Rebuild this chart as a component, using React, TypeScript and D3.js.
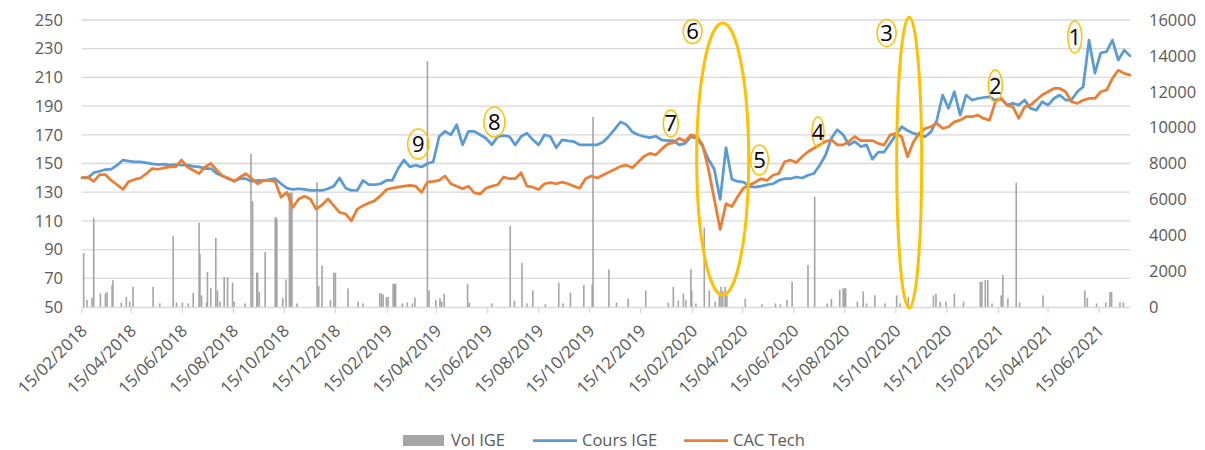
import React from 'react';
import * as d3 from 'd3';

// ---------- DATA ----------
const START = '2018-02-15';
const END = '2021-07-22';

// Weekly readings (one value per week starting 15/02/2018)
const coursIGE: number[] = [
  140.1, 140, 143.6, 144.6, 145.8, 146, 148.8, 152.4, 151.6, 151.2,
  151.2, 150.5, 149.8, 149.3, 149.5, 148.8, 149.3, 148.8, 148.8, 148,
  147.6, 146.5, 146.5, 143, 141.3, 139.4, 137.8, 139.4, 139.4, 137.5,
  138.2, 138, 138.7, 139.4, 135.9, 132.8, 131.9, 132.4, 131.9, 131.2,
  131.2, 131.2, 132.4, 134.2, 139.9, 133, 131.2, 131.2, 138.2, 135.2,
  135.2, 135.9, 138.2, 138.2, 146.5, 152.4, 147.6, 148.8, 147.6, 150,
  151.2, 168.8, 172.4, 170, 177, 163, 172.4, 172.4, 170, 167.6,
  163, 168.8, 169.5, 168.8, 163, 168.8, 171.2, 166.5, 163, 170,
  168.8, 161, 166.5, 165.8, 165.3, 163, 163, 163, 163, 165,
  169, 174, 179, 177, 172, 170, 168.8, 168, 169, 166.5,
  166, 166, 163, 164, 168.8, 167.5, 162, 153, 146, 125,
  161, 139, 137.5, 137, 134, 133.5, 134.2, 135.2, 135.9, 138.2,
  139.4, 139.4, 140.6, 139.9, 141.8, 143, 148.8, 155.9, 167.6, 173.5,
  170, 163, 165.3, 161.8, 163, 153, 158, 158, 164, 169.8,
  175.6, 173, 171, 170, 168.6, 172, 180, 197.7, 188.4, 200,
  183.7, 197.7, 194.2, 195.3, 196, 196.5, 194.2, 195.3, 190.7, 191.9,
  190.7, 194.2, 188.4, 187.2, 193, 190.7, 195.3, 197.7, 194.2, 194.2,
  200, 203.5, 236, 213, 227, 228, 236, 222, 229, 225,
];

const cacTech: number[] = [
  140, 140.6, 137.5, 142.2, 142.2, 138.2, 135.2, 132, 137.5, 138.9,
  139.9, 142.9, 146.5, 146, 146.9, 147.6, 147.6, 152.4, 147.6, 145.3,
  142.9, 147.6, 150, 145.3, 141.3, 139.9, 137.5, 140.6, 142.9, 139.4,
  135.9, 138.2, 138.2, 137.5, 126.5, 130, 119.4, 125.3, 127.2, 125.3,
  118.2, 121.1, 125.3, 120.6, 115.9, 115, 110, 118.2, 120.6, 122.5,
  124.1, 127.6, 131.9, 132.8, 133.5, 134.2, 134.7, 134.2, 130, 137,
  137.5, 138.2, 141.3, 135.9, 134.2, 132.4, 134.2, 129.5, 128.8, 132.8,
  134.2, 135.2, 140.6, 139.4, 139.4, 143.6, 134.2, 133.5, 131.9, 135.9,
  136.6, 135.9, 137, 135.9, 134.2, 132.8, 139.4, 141.3, 139.9, 142,
  144, 146, 148, 148.8, 147, 151, 155, 157, 156, 160,
  163.5, 164.5, 167.6, 165.5, 170, 169, 163, 146, 125, 104,
  122, 120, 127, 133, 135, 137, 139.4, 138.2, 141.8, 143,
  151.2, 152.4, 150.7, 154.7, 158.2, 160.6, 163, 165.3, 166.5, 163,
  163, 165.3, 168.8, 166, 166, 166, 164, 162.8, 169.8, 171,
  168.6, 154.7, 165, 171, 174.4, 175.6, 178, 174.4, 175.6, 179,
  180.2, 182.6, 182.6, 183.7, 181.4, 180.2, 193, 195.3, 190.7, 189.5,
  181.4, 189.5, 190.7, 194.2, 197.7, 200, 202.3, 202.3, 200, 193,
  191.9, 194.2, 195.3, 195.3, 200, 201.2, 209.3, 215, 212.8, 211.6,
];

const volDates: string[] = [
  '2018-02-17', '2018-02-21', '2018-02-27', '2018-03-01', '2018-03-09', '2018-03-15', '2018-03-17', '2018-03-23', '2018-03-24', '2018-04-03',
  '2018-04-09', '2018-04-13', '2018-04-17', '2018-05-11', '2018-05-19', '2018-06-04', '2018-06-08', '2018-06-15', '2018-06-22', '2018-06-28',
  '2018-07-05', '2018-07-06', '2018-07-08', '2018-07-14', '2018-07-15', '2018-07-19', '2018-07-25', '2018-07-27', '2018-07-30', '2018-08-04',
  '2018-08-08', '2018-08-14', '2018-08-16', '2018-08-29', '2018-09-05', '2018-09-07', '2018-09-12', '2018-09-13', '2018-09-15', '2018-09-22',
  '2018-10-04', '2018-10-05', '2018-10-06', '2018-10-13', '2018-10-17', '2018-10-21', '2018-10-22', '2018-10-23', '2018-10-24', '2018-10-30',
  '2018-11-23', '2018-11-25', '2018-11-29', '2018-12-09', '2018-12-13', '2018-12-15', '2018-12-30', '2019-01-11', '2019-01-17', '2019-02-06',
  '2019-02-08', '2019-02-10', '2019-02-14', '2019-02-16', '2019-02-22', '2019-02-24', '2019-02-25', '2019-03-05', '2019-03-11', '2019-03-17',
  '2019-03-20', '2019-04-04', '2019-04-06', '2019-04-14', '2019-04-19', '2019-04-21', '2019-04-24', '2019-05-22', '2019-05-24', '2019-06-20',
  '2019-07-12', '2019-07-17', '2019-07-26', '2019-08-01', '2019-08-08', '2019-08-23', '2019-09-08', '2019-09-13', '2019-09-22', '2019-10-08',
  '2019-10-18', '2019-10-19', '2019-11-07', '2019-11-16', '2019-11-30', '2019-12-21', '2020-01-17', '2020-01-23', '2020-01-29', '2020-02-04',
  '2020-02-07', '2020-02-13', '2020-02-14', '2020-02-19', '2020-02-29', '2020-03-06', '2020-03-13', '2020-03-18', '2020-03-20', '2020-03-22',
  '2020-03-25', '2020-03-27', '2020-04-18', '2020-05-08', '2020-05-24', '2020-05-30', '2020-06-07', '2020-06-13', '2020-07-02', '2020-07-10',
  '2020-07-25', '2020-07-30', '2020-08-09', '2020-08-13', '2020-08-15', '2020-08-16', '2020-08-30', '2020-09-06', '2020-09-10', '2020-09-20',
  '2020-10-02', '2020-10-16', '2020-10-20', '2020-10-30', '2020-11-29', '2020-12-02', '2020-12-07', '2020-12-14', '2020-12-24', '2021-01-04',
  '2021-01-24', '2021-01-26', '2021-01-30', '2021-02-02', '2021-02-07', '2021-02-18', '2021-02-20', '2021-02-26', '2021-03-08', '2021-03-12',
  '2021-04-09', '2021-05-29', '2021-06-01', '2021-06-12', '2021-06-23', '2021-06-28', '2021-06-30', '2021-07-10', '2021-07-14',
];
const volValues: number[] = [
  3000, 390, 520, 4960, 760, 760, 840, 1230, 1500, 250,
  560, 300, 1120, 1120, 200, 3960, 250, 250, 200, 780,
  4700, 2970, 650, 250, 1950, 1040, 3860, 930, 300, 1670,
  1670, 1360, 300, 200, 8530, 5900, 1910, 1910, 830, 3060,
  5000, 5000, 4900, 500, 1540, 6370, 6370, 6300, 6370, 200,
  6950, 1180, 2320, 400, 1910, 1910, 1040, 300, 200, 760,
  760, 700, 560, 560, 1300, 1300, 1300, 200, 250, 200,
  520, 13700, 930, 400, 500, 300, 740, 1300, 250, 200,
  4520, 350, 2450, 200, 930, 150, 1360, 200, 800, 1230,
  1270, 10600, 2100, 250, 470, 930, 250, 1120, 350, 750,
  400, 2100, 930, 200, 4440, 930, 300, 750, 1130, 900,
  1130, 650, 470, 150, 200, 150, 400, 1410, 2340, 6150,
  200, 450, 950, 1040, 1040, 1040, 300, 870, 200, 650,
  200, 650, 200, 560, 650, 740, 300, 300, 740, 300,
  1410, 1410, 1500, 1500, 200, 650, 1780, 470, 6930, 250,
  650, 930, 500, 200, 250, 840, 840, 250, 250,
];

const leftTicks = [50, 70, 90, 110, 130, 150, 170, 190, 210, 230, 250];
const rightTicks = [0, 2000, 4000, 6000, 8000, 10000, 12000, 14000, 16000];
const xTickLabels = [
  '15/02/2018', '15/04/2018', '15/06/2018', '15/08/2018', '15/10/2018', '15/12/2018',
  '15/02/2019', '15/04/2019', '15/06/2019', '15/08/2019', '15/10/2019', '15/12/2019',
  '15/02/2020', '15/04/2020', '15/06/2020', '15/08/2020', '15/10/2020', '15/12/2020',
  '15/02/2021', '15/04/2021', '15/06/2021',
];

// Annotations: label, anchor date, value (left axis), radii in px
const annoLabels = ['1', '2', '3', '4', '5', '6', '7', '8', '9'];
const annoDates = ['2021-05-17', '2021-02-11', '2020-10-04', '2020-07-14', '2020-05-05', '2020-02-15', '2020-01-20', '2019-06-23', '2019-03-24'];
const annoValues = [238.2, 204, 240.9, 172, 152.4, 242, 177.9, 178.9, 163.6];
const annoRx = [7, 7, 9.5, 6, 9, 9.5, 7.5, 10.5, 10.5];
const annoRy = [16, 16, 13.5, 15, 15, 12, 13.5, 15, 15];
const bigDates = ['2020-10-31', '2020-03-22'];
const bigValues = [150.7, 153.1];
const bigRx = [12.5, 26];
const bigRy = [145.5, 136];

const seriesNames = ['Vol IGE', 'Cours IGE', 'CAC Tech'];

// ---------- CHART ----------
const FONT = "'Open Sans', 'Liberation Sans', sans-serif";
const TEXT = '#595959';
const GRID = '#D9D9D9';
const BLUE = '#5B9BD5';
const ORANGE = '#ED7D31';
const GRAY = '#A5A5A5';
const GOLD = '#FFC000';

export default function App() {
  const W = 1205, H = 450;
  const left = 82, right = 1130, top = 20, bottom = 307;
  const parse = d3.utcParse('%Y-%m-%d');
  const parseTick = d3.utcParse('%d/%m/%Y');
  const start = parse(START)!;
  const x = d3.scaleUtc().domain([start, parse(END)!]).range([left, right]);
  const yL = d3.scaleLinear().domain([50, 250]).range([bottom, top]);
  const yR = d3.scaleLinear().domain([0, 16000]).range([bottom, top]);
  const weeks = d3.range(coursIGE.length).map((i) => d3.utcDay.offset(start, 7 * i));

  const line = d3
    .line<number>()
    .x((_, i) => x(weeks[i]))
    .y((d) => yL(d));

  return (
    <svg width={W} height={H} style={{ position: 'absolute', left: 0, top: 0, background: '#fff' }} fontFamily={FONT}>
      {/* gridlines */}
      {leftTicks.slice(1).map((t) => (
        <line key={'g' + t} x1={left} x2={right} y1={yL(t)} y2={yL(t)} stroke={GRID} strokeWidth={1.3} />
      ))}
      {/* volume bars */}
      {volDates.map((d, i) => {
        const cx = x(parse(d)!);
        return (
          <rect key={'v' + i} x={cx - 0.8} width={1.6} y={yR(volValues[i])} height={yR(0) - yR(volValues[i])} fill={GRAY} />
        );
      })}
      {/* bottom axis */}
      <line x1={left} x2={right} y1={bottom + 0.5} y2={bottom + 0.5} stroke={GRID} strokeWidth={1.3} />
      {xTickLabels.map((lab) => {
        const tx = x(parseTick(lab)!);
        return (
          <g key={'xt' + lab}>
            <line x1={tx} x2={tx} y1={bottom} y2={bottom + 6} stroke={GRID} strokeWidth={1.3} />
            <text
              transform={`translate(${tx + 6},${bottom + 25}) rotate(-45)`}
              textAnchor="end"
              fontSize={16.8}
              fill={TEXT}
            >
              {lab}
            </text>
          </g>
        );
      })}
      {/* left axis labels */}
      {leftTicks.map((t) => (
        <text key={'l' + t} x={left - 19} y={yL(t)} dy="0.35em" textAnchor="end" fontSize={16.5} fill={TEXT}>
          {t}
        </text>
      ))}
      {/* right axis labels */}
      {rightTicks.map((t) => (
        <text key={'r' + t} x={right + 19} y={yR(t)} dy="0.35em" textAnchor="start" fontSize={16.5} fill={TEXT}>
          {t}
        </text>
      ))}
      {/* lines */}
      <path d={line(coursIGE) || ''} fill="none" stroke={BLUE} strokeWidth={2.75} strokeLinejoin="round" strokeLinecap="round" />
      <path d={line(cacTech) || ''} fill="none" stroke={ORANGE} strokeWidth={2.75} strokeLinejoin="round" strokeLinecap="round" />
      {/* big ellipses */}
      {bigDates.map((d, i) => (
        <ellipse key={'b' + i} cx={x(parse(d)!)} cy={yL(bigValues[i])} rx={bigRx[i]} ry={bigRy[i]} fill="none" stroke={GOLD} strokeWidth={3} />
      ))}
      {/* numbered annotations */}
      {annoLabels.map((lab, i) => {
        const cx = x(parse(annoDates[i])!);
        const cy = yL(annoValues[i]);
        return (
          <g key={'a' + lab}>
            <ellipse cx={cx} cy={cy} rx={annoRx[i]} ry={annoRy[i]} fill="none" stroke={GOLD} strokeWidth={1.5} />
            <text x={cx} y={cy} dy="0.36em" textAnchor="middle" fontSize={22} fill="#000">
              {lab}
            </text>
          </g>
        );
      })}
      {/* legend */}
      <rect x={403} y={435} width={41} height={11} fill={GRAY} />
      <text x={451} y={445.5} fontSize={16.5} fill={TEXT}>{seriesNames[0]}</text>
      <line x1={533} x2={577} y1={440.5} y2={440.5} stroke={BLUE} strokeWidth={2.75} />
      <text x={582} y={445.5} fontSize={16.5} fill={TEXT}>{seriesNames[1]}</text>
      <line x1={684} x2={728} y1={440.5} y2={440.5} stroke={ORANGE} strokeWidth={2.75} />
      <text x={733} y={445.5} fontSize={16.5} fill={TEXT}>{seriesNames[2]}</text>
    </svg>
  );
}
